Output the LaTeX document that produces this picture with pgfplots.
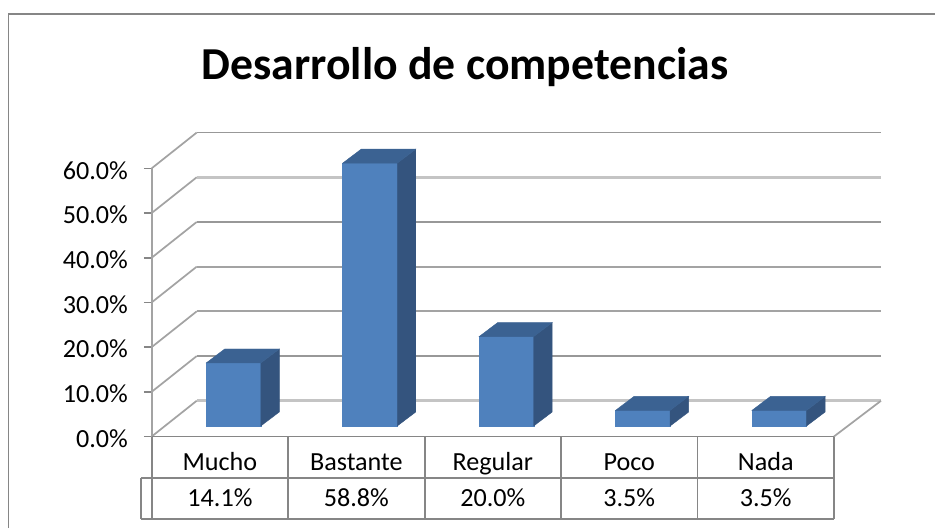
\documentclass[border=0pt]{standalone}
\usepackage{pgfplots}
\pgfplotsset{compat=1.18}
\usepackage{fontspec}
\setmainfont{Carlito}
\definecolor{barfront}{HTML}{4F81BD}
\definecolor{barside}{HTML}{34547E}
\definecolor{bartop}{HTML}{3B6292}
\definecolor{gridc}{HTML}{A3A3A3}
\definecolor{gridd}{HTML}{989898}
\definecolor{gridl}{HTML}{C4C4C4}
\definecolor{framec}{HTML}{868686}
\newcommand\lblfont{\fontsize{19.6}{21}\selectfont}
\begin{document}
\begin{tikzpicture}[x=0.75pt,y=0.75pt]
\useasboundingbox (-151.7,-92.5) rectangle (783.3,436.5);
\begin{axis}[
  at={(0,0)},anchor=south west,
  scale only axis,
  width=511.7pt,height=201.15pt,
  xmin=-0.5,xmax=4.5,ymin=0,ymax=60,
  clip=false,
  axis line style={draw=none},
  axis x line*=bottom,axis y line*=left,
  xtick={0,1,2,3,4},
  xticklabels={},
  x tick style={draw=none},
  ytick={0,10,20,30,40,50,60},
  yticklabel={\pgfmathprintnumber[fixed,fixed zerofill,precision=1,assume math mode=true]{\tick}\%},
  yticklabel style={font=\lblfont,xshift=-8.5pt,yshift=-1.5pt},
  y tick style={draw=framec,line width=1.2pt},
  major tick length=5.8pt,
  ytick align=outside,
  /pgf/number format/assume math mode=true,
]
% walls: diagonals and back lines
\pgfplotsinvokeforeach{0,10,20,30,40,50,60}{
  \addplot[gridc,line width=1.3pt,forget plot] coordinates {(-0.5,#1)(-0.17,#1+8)};
}
\addplot[gridl,line width=2.1pt,forget plot] coordinates {(-0.17,8)(4.845,8)};
\addplot[gridd,line width=1.5pt,forget plot] coordinates {(-0.17,18)(4.845,18)};
\addplot[gridc,line width=1.7pt,forget plot] coordinates {(-0.17,28)(4.845,28)};
\addplot[gridc,line width=1.6pt,forget plot] coordinates {(-0.17,38)(4.845,38)};
\addplot[gridd,line width=1.4pt,forget plot] coordinates {(-0.17,48)(4.845,48)};
\addplot[gridl,line width=2.1pt,forget plot] coordinates {(-0.17,58)(4.845,58)};
\addplot[gridd,line width=1.4pt,forget plot] coordinates {(-0.17,68)(4.845,68)};
\addplot[gridc,line width=1.3pt,forget plot] coordinates {(4.5,0)(4.845,8)};
\addplot[gridc,line width=1.5pt,forget plot] coordinates {(-0.5,0)(-0.5,60)};
\addplot[framec,line width=1.4pt,forget plot] coordinates {(-0.5,0)(4.5,0)};
% bars: front faces
\addplot[ybar,bar width=41pt,bar shift=0pt,fill=barfront,draw=barfront,line width=0.3pt,xshift=10.2pt,yshift=7.9pt,forget plot]
  coordinates {(0,14.1)(1,58.8)(2,20.0)(3,3.5)(4,3.5)};
% side and top faces
\addplot[fill=barside,draw=barside,line width=0.3pt,xshift=10.2pt,yshift=7.9pt,forget plot] coordinates {(0.2,0)(0.2,14.1)(0.3356,17.23)(0.3356,3.13)} --cycle;
\addplot[fill=bartop,draw=bartop,line width=0.3pt,xshift=10.2pt,yshift=7.9pt,forget plot] coordinates {(-0.2,14.1)(0.2,14.1)(0.3356,17.23)(-0.0644,17.23)} --cycle;
\addplot[fill=barside,draw=barside,line width=0.3pt,xshift=10.2pt,yshift=7.9pt,forget plot] coordinates {(1.2,0)(1.2,58.8)(1.3356,61.93)(1.3356,3.13)} --cycle;
\addplot[fill=bartop,draw=bartop,line width=0.3pt,xshift=10.2pt,yshift=7.9pt,forget plot] coordinates {(0.8,58.8)(1.2,58.8)(1.3356,61.93)(0.9356,61.93)} --cycle;
\addplot[fill=barside,draw=barside,line width=0.3pt,xshift=10.2pt,yshift=7.9pt,forget plot] coordinates {(2.2,0)(2.2,20)(2.3356,23.13)(2.3356,3.13)} --cycle;
\addplot[fill=bartop,draw=bartop,line width=0.3pt,xshift=10.2pt,yshift=7.9pt,forget plot] coordinates {(1.8,20)(2.2,20)(2.3356,23.13)(1.9356,23.13)} --cycle;
\addplot[fill=barside,draw=barside,line width=0.3pt,xshift=10.2pt,yshift=7.9pt,forget plot] coordinates {(3.2,0)(3.2,3.5)(3.3356,6.63)(3.3356,3.13)} --cycle;
\addplot[fill=bartop,draw=bartop,line width=0.3pt,xshift=10.2pt,yshift=7.9pt,forget plot] coordinates {(2.8,3.5)(3.2,3.5)(3.3356,6.63)(2.9356,6.63)} --cycle;
\addplot[fill=barside,draw=barside,line width=0.3pt,xshift=10.2pt,yshift=7.9pt,forget plot] coordinates {(4.2,0)(4.2,3.5)(4.3356,6.63)(4.3356,3.13)} --cycle;
\addplot[fill=bartop,draw=bartop,line width=0.3pt,xshift=10.2pt,yshift=7.9pt,forget plot] coordinates {(3.8,3.5)(4.2,3.5)(4.3356,6.63)(3.9356,6.63)} --cycle;
% data table
\pgfplotsinvokeforeach{-0.5,0.5,1.5,2.5,3.5,4.5}{
  \addplot[framec,line width=1.4pt,forget plot] coordinates {(#1,0)(#1,-18.5)};
}
\addplot[framec,line width=1.4pt,forget plot] coordinates {(-0.58,-9.2)(4.5,-9.2)};
\addplot[framec,line width=1.4pt,forget plot] coordinates {(-0.58,-18.5)(4.5,-18.5)};
\addplot[framec,line width=1.4pt,forget plot] coordinates {(-0.58,-9.2)(-0.58,-18.5)};
\node[font=\lblfont,anchor=base] at (axis cs:0,-7.5) {Mucho};
\node[font=\lblfont,anchor=base] at (axis cs:1,-7.5) {Bastante};
\node[font=\lblfont,anchor=base] at (axis cs:2,-7.5) {Regular};
\node[font=\lblfont,anchor=base] at (axis cs:3,-7.5) {Poco};
\node[font=\lblfont,anchor=base] at (axis cs:4,-7.5) {Nada};
\node[font=\lblfont,anchor=base] at (axis cs:0,-15.6) {14.1\%};
\node[font=\lblfont,anchor=base] at (axis cs:1,-15.6) {58.8\%};
\node[font=\lblfont,anchor=base] at (axis cs:2,-15.6) {20.0\%};
\node[font=\lblfont,anchor=base] at (axis cs:3,-15.6) {3.5\%};
\node[font=\lblfont,anchor=base] at (axis cs:4,-15.6) {3.5\%};
\end{axis}
\node[font=\fontsize{34.3}{36}\selectfont\bfseries,anchor=base] at (313.3,356.5) {Desarrollo de competencias};
\draw[framec,line width=1.4pt] (-143.2,-91.5) -- (-143.2,422.5) -- (783.3,422.5);
\end{tikzpicture}
\end{document}
